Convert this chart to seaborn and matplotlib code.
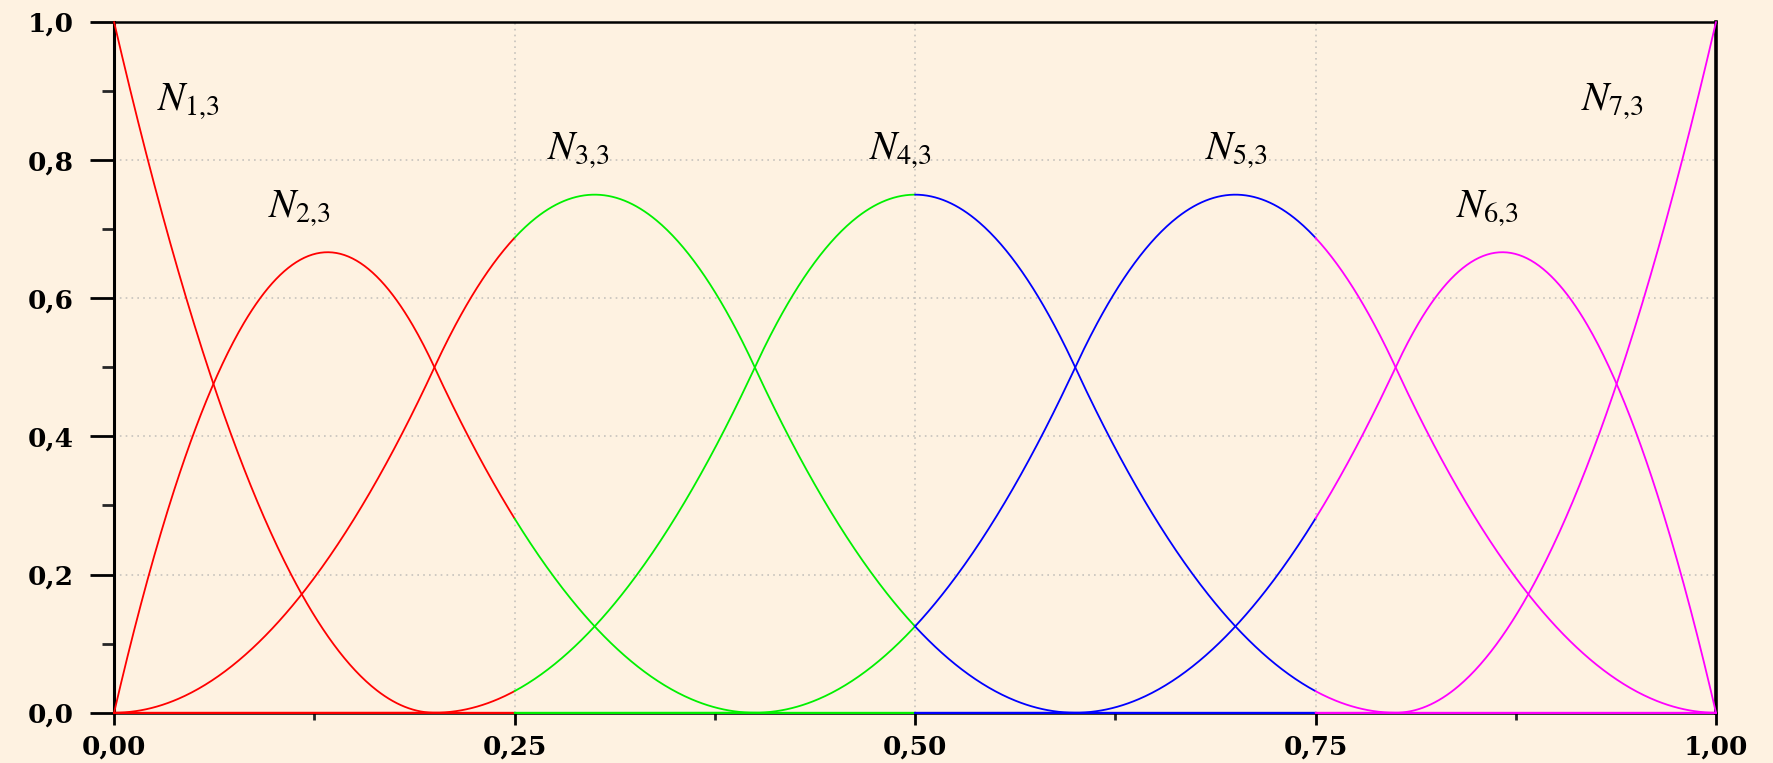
import numpy as np
import matplotlib
matplotlib.use("Agg")
import matplotlib.pyplot as plt
import seaborn as sns

# Clamped knot vector of the quadratic B-spline (order 3, seven basis functions)
knots = [0.0, 0.0, 0.0, 0.2, 0.4, 0.6, 0.8, 1.0, 1.0, 1.0]
order = 3
basis_labels = [r"$N_{1{,}3}$", r"$N_{2{,}3}$", r"$N_{3{,}3}$", r"$N_{4{,}3}$",
                r"$N_{5{,}3}$", r"$N_{6{,}3}$", r"$N_{7{,}3}$"]
label_x = [0.027, 0.096, 0.270, 0.471, 0.681, 0.838, 0.916]
label_y = [0.872, 0.716, 0.800, 0.800, 0.800, 0.716, 0.872]

# Parameter ranges drawn in their own colour
band_edges = [0.0, 0.25, 0.5, 0.75, 1.0]
band_colors = ["#ff0000", "#00f000", "#0000ff", "#ff00ff"]

x_ticks = [0.0, 0.25, 0.5, 0.75, 1.0]
x_ticklabels = ["0,00", "0,25", "0,50", "0,75", "1,00"]
y_ticks = [0.0, 0.2, 0.4, 0.6, 0.8, 1.0]
y_ticklabels = ["0,0", "0,2", "0,4", "0,6", "0,8", "1,0"]


def cox_de_boor(i, k, t, u):
    """Value of basis function N_{i,k} on knot vector t at parameters u."""
    t = np.asarray(t, dtype=float)
    if k == 1:
        val = ((u >= t[i]) & (u < t[i + 1])).astype(float)
        # close the last non-empty span at the right end
        if t[i] < t[i + 1] and t[i + 1] == t[-1]:
            val[u == t[-1]] = 1.0
        return val
    out = np.zeros_like(u)
    d1 = t[i + k - 1] - t[i]
    if d1 > 0:
        out += (u - t[i]) / d1 * cox_de_boor(i, k - 1, t, u)
    d2 = t[i + k] - t[i + 1]
    if d2 > 0:
        out += (t[i + k] - u) / d2 * cox_de_boor(i + 1, k - 1, t, u)
    return out


bg = "#fef2e1"
sns.set_style("ticks")
plt.rcParams["font.family"] = ["DejaVu Serif", "Liberation Serif"]
plt.rcParams["mathtext.fontset"] = "stix"

fig = plt.figure(figsize=(17.74, 7.63), dpi=100, facecolor=bg)
ax = fig.add_axes([0.0643, 0.0659, 0.9030, 0.9053])
ax.set_facecolor(bg)

n_basis = len(knots) - order
for lo, hi, col in zip(band_edges[:-1], band_edges[1:], band_colors):
    u = np.linspace(lo, hi, 300)
    for i in range(n_basis):
        vals = cox_de_boor(i, order, knots, u)
        sns.lineplot(x=u, y=vals, color=col, lw=1.3, ax=ax, zorder=4,
                     clip_on=False, sort=False, estimator=None)

for lab, lx, ly in zip(basis_labels, label_x, label_y):
    ax.text(lx, ly, lab, fontsize=29, color="black", ha="left",
            va="baseline")

ax.set_xlim(0, 1)
ax.set_ylim(0, 1)

# dotted grid at the labelled positions
for gx in x_ticks[1:-1]:
    ax.axvline(gx, color="#c6c3bd", lw=1.2, ls=(0, (1, 2.5)), zorder=1)
for gy in y_ticks[1:-1]:
    ax.axhline(gy, color="#c6c3bd", lw=1.2, ls=(0, (1, 2.5)), zorder=1)

ax.set_xticks(x_ticks)
ax.set_xticklabels(x_ticklabels)
ax.set_xticks(np.arange(0.125, 1.0, 0.25), minor=True)
ax.set_yticks(y_ticks)
ax.set_yticklabels(y_ticklabels)
ax.set_yticks(np.arange(0.1, 1.0, 0.2), minor=True)

ax.tick_params(axis="x", which="major", direction="out", length=8.5,
               width=2, pad=7, labelsize=19, colors="black")
ax.tick_params(axis="x", which="minor", direction="out", length=5, width=2)
ax.tick_params(axis="y", which="major", direction="out", length=17,
               width=2, pad=12, labelsize=19, colors="black")
ax.tick_params(axis="y", which="minor", direction="out", length=8.5, width=2)
for lab in ax.get_xticklabels() + ax.get_yticklabels():
    lab.set_fontweight("bold")

for side, w in (("left", 2.2), ("bottom", 1.8), ("top", 1.8), ("right", 2.6)):
    ax.spines[side].set_visible(True)
    ax.spines[side].set_color("black")
    ax.spines[side].set_linewidth(w)

fig.savefig("out.png", dpi=100, facecolor=bg)
